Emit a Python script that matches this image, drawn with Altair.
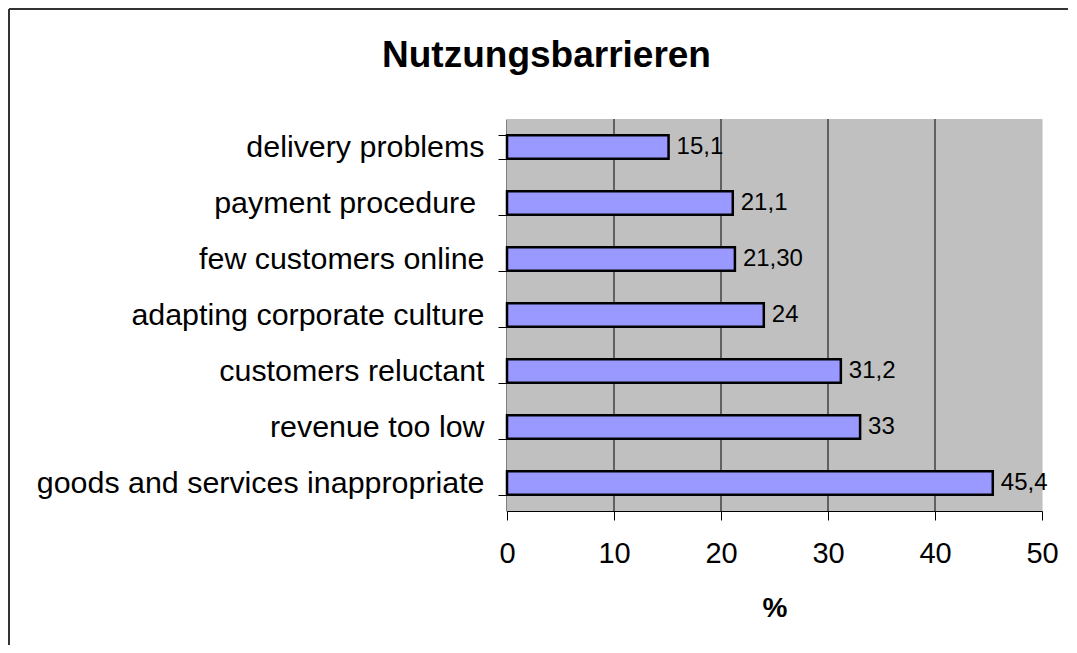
import altair as alt
import pandas as pd

categories = [
    "delivery problems",
    "payment procedure\u00a0\u200b",
    "few customers online",
    "adapting corporate culture",
    "customers reluctant",
    "revenue too low",
    "goods and services inappropriate",
]
values = [15.1, 21.1, 21.3, 24.0, 31.2, 33.0, 45.4]
value_labels = ["15,1", "21,1", "21,30", "24", "31,2", "33", "45,4"]
grid_values = [10, 20, 30, 40]
x_ticks = [0, 10, 20, 30, 40, 50]

FONT = "Liberation Sans"
PL, PT, PR, PB = 499, 111, 26, 134
W, H = 535, 392

df = pd.DataFrame({"cat": categories, "val": values, "lab": value_labels})
grid_df = pd.DataFrame({"g": grid_values})
frame_df = pd.DataFrame({"a": [0]})

y_enc = alt.Y(
    "cat:N",
    sort=categories,
    scale=alt.Scale(paddingInner=0.58, paddingOuter=0.29),
    axis=alt.Axis(
        title=None,
        tickBand="extent",
        tickSize=9,
        tickColor="black",
        domainColor="black",
        domainWidth=2,
        labelFont=FONT,
        labelFontSize=30.4,
        labelColor="black",
        labelPadding=14,
        labelLimit=600,
        grid=False,
    ),
)
x_scale = alt.Scale(domain=[0, 50], nice=False)

background = alt.Chart(frame_df).mark_rect(color="#C0C0C0").encode(
    x=alt.value(0), x2=alt.value(W), y=alt.value(0), y2=alt.value(H)
)

bars = alt.Chart(df).mark_bar(
    fill="#9999FF", stroke="black", strokeWidth=2.5
).encode(
    x=alt.X(
        "val:Q",
        scale=x_scale,
        axis=alt.Axis(
            values=x_ticks,
            title="%",
            titleFont=FONT,
            titleFontSize=28,
            titleFontWeight="bold",
            titleColor="black",
            titlePadding=26,
            labelFont=FONT,
            labelFontSize=29,
            labelColor="black",
            labelPadding=19,
            labelFlush=False,
            tickSize=9,
            tickColor="black",
            domainColor="black",
            grid=False,
        ),
    ),
    y=y_enc,
)

grid = alt.Chart(grid_df).mark_rule(color="black", strokeWidth=1).encode(
    x=alt.X("g:Q", scale=x_scale)
)

labels = alt.Chart(df).mark_text(
    align="left", baseline="middle", dx=8, font=FONT, fontSize=24, color="black"
).encode(
    x=alt.X("val:Q", scale=x_scale),
    y=alt.Y("cat:N", sort=categories),
    text="lab:N",
)

frame_left = alt.Chart(frame_df).mark_rule(color="#333333", strokeWidth=2).encode(
    x=alt.value(-PL + 1), y=alt.value(-PT + 1), y2=alt.value(H + PB)
)
frame_top = alt.Chart(frame_df).mark_rule(color="#333333", strokeWidth=2).encode(
    y=alt.value(-PT + 1), x=alt.value(-PL + 1), x2=alt.value(W + PR)
)

chart = alt.layer(background, grid, bars, labels, frame_left, frame_top).properties(
    width=W,
    height=H,
    padding={"left": PL, "top": PT, "right": PR, "bottom": PB},
    autosize=alt.AutoSizeParams(type="none"),
    title=alt.TitleParams(
        "Nutzungsbarrieren",
        font=FONT,
        fontSize=37,
        fontWeight="bold",
        color="black",
        anchor="middle",
        dx=-228,
        offset=0,
        dy=67,
    ),
).configure_view(stroke=None).configure(background="white")

chart.save("out.html", embed_options={"renderer": "svg", "actions": False})
